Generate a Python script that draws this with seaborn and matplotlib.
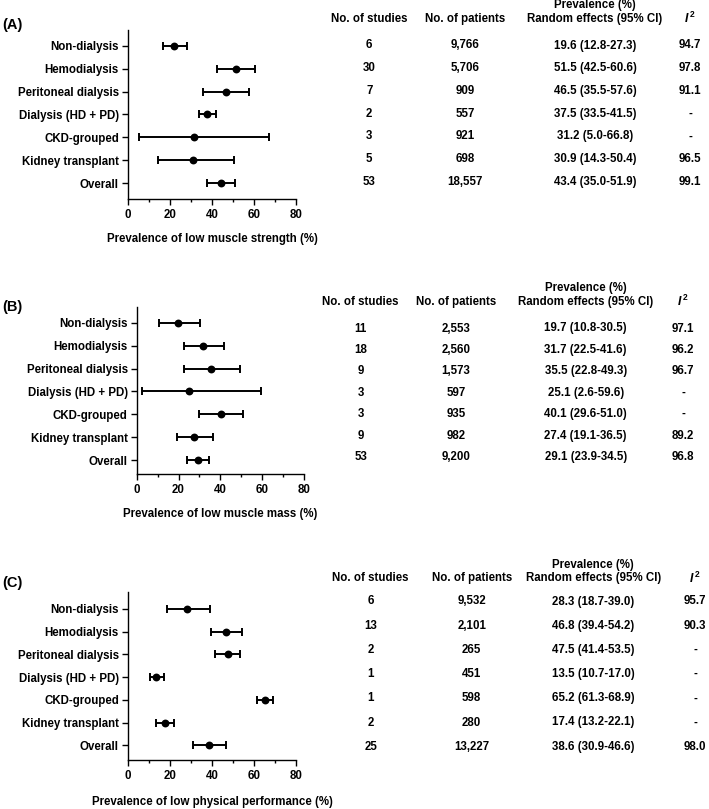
import numpy as np
import pandas as pd
import matplotlib
matplotlib.use('Agg')
import matplotlib.pyplot as plt
import seaborn as sns

groups = ['Non-dialysis', 'Hemodialysis', 'Peritoneal dialysis', 'Dialysis (HD + PD)',
          'CKD-grouped', 'Kidney transplant', 'Overall']

# (A) low muscle strength - marker positions as drawn
a_est = [21.9, 51.6, 46.5, 37.6, 31.3, 30.8, 44.1]
a_lo = [16.8, 42.5, 35.6, 33.7, 5.1, 14.4, 37.8]
a_hi = [27.9, 60.6, 57.8, 41.8, 67.0, 50.6, 50.9]
a_studies = ['6', '30', '7', '2', '3', '5', '53']
a_patients = ['9,766', '5,706', '909', '557', '921', '698', '18,557']
a_prev = ['19.6 (12.8-27.3)', '51.5 (42.5-60.6)', '46.5 (35.5-57.6)', '37.5 (33.5-41.5)',
          '31.2 (5.0-66.8)', '30.9 (14.3-50.4)', '43.4 (35.0-51.9)']
a_i2 = ['94.7', '97.8', '91.1', '-', '-', '96.5', '99.1']

# (B) low muscle mass
b_est = [19.7, 31.7, 35.5, 25.1, 40.1, 27.4, 29.1]
b_lo = [10.8, 22.5, 22.8, 2.6, 29.6, 19.1, 23.9]
b_hi = [30.5, 41.6, 49.3, 59.6, 51.0, 36.5, 34.5]
b_studies = ['11', '18', '9', '3', '3', '9', '53']
b_patients = ['2,553', '2,560', '1,573', '597', '935', '982', '9,200']
b_prev = ['19.7 (10.8-30.5)', '31.7 (22.5-41.6)', '35.5 (22.8-49.3)', '25.1 (2.6-59.6)',
          '40.1 (29.6-51.0)', '27.4 (19.1-36.5)', '29.1 (23.9-34.5)']
b_i2 = ['97.1', '96.2', '96.7', '-', '-', '89.2', '96.8']

# (C) low physical performance
c_est = [28.3, 46.8, 47.5, 13.5, 65.2, 17.4, 38.6]
c_lo = [18.7, 39.4, 41.4, 10.7, 61.3, 13.2, 30.9]
c_hi = [39.0, 54.2, 53.5, 17.0, 68.9, 22.1, 46.6]
c_studies = ['6', '13', '2', '1', '1', '2', '25']
c_patients = ['9,532', '2,101', '265', '451', '598', '280', '13,227']
c_prev = ['28.3 (18.7-39.0)', '46.8 (39.4-54.2)', '47.5 (41.4-53.5)', '13.5 (10.7-17.0)',
          '65.2 (61.3-68.9)', '17.4 (13.2-22.1)', '38.6 (30.9-46.6)']
c_i2 = ['95.7', '90.3', '-', '-', '-', '-', '98.0']

xlabels = ['Prevalence of low muscle strength (%)',
           'Prevalence of low muscle mass (%)',
           'Prevalence of low physical performance (%)']

sns.set_style('ticks')
plt.rcParams['font.family'] = ['Liberation Sans', 'DejaVu Sans']
plt.rcParams['font.weight'] = 'bold'
plt.rcParams['text.color'] = 'black'
plt.rcParams['axes.labelcolor'] = 'black'
plt.rcParams['mathtext.fontset'] = 'custom'
plt.rcParams['mathtext.it'] = 'Liberation Sans:italic'
plt.rcParams['mathtext.rm'] = 'Liberation Sans:bold'

W, H = 709, 809
FS = 8.3
fig = plt.figure(figsize=(W / 100, H / 100), dpi=100)


def fx(x):
    return x / W


def fy(y):
    return 1 - y / H


# axes boxes in pixels: left, right, top, bottom, ylim
boxes = [(128, 296, 30, 199, (6.7, -0.7)),
         (136.7, 304, 306.7, 474, (6.6, -0.7)),
         (128, 296, 591.7, 760, (6.65, -0.76))]

# table layout: column centres, header y, first row y, row step
tables = [([369.3, 465, 595, 690], 18.7, 45.5, 22.7),
          ([360.7, 456, 585.7, 683.3], 301.7, 328.5, 21.4),
          ([370.7, 471.7, 593.3, 695], 578.3, 601.5, 24.2)]

panels = [(a_est, a_lo, a_hi, a_studies, a_patients, a_prev, a_i2),
          (b_est, b_lo, b_hi, b_studies, b_patients, b_prev, b_i2),
          (c_est, c_lo, c_hi, c_studies, c_patients, c_prev, c_i2)]

letters = ['(A)', '(B)', '(C)']
letter_y = [25, 307, 583]
xlabel_pad = [8, 8.5, 9.5]

for i, (est, lo, hi, st, pat, prev, i2) in enumerate(panels):
    l, r, t, b, ylim = boxes[i]
    ax = fig.add_axes([fx(l), fy(b), (r - l) / W, (b - t) / H])
    df = pd.DataFrame({'group': groups, 'est': est, 'lo': lo, 'hi': hi})
    df['y'] = np.arange(len(df))

    ax.errorbar(df['est'], df['y'], xerr=[df['est'] - df['lo'], df['hi'] - df['est']],
                fmt='none', ecolor='black', elinewidth=1.4, capsize=2.6, capthick=1.4, zorder=2)
    sns.scatterplot(data=df, x='est', y='y', ax=ax, color='black', s=32,
                    edgecolor='black', linewidth=0, zorder=3, legend=False)

    ax.set_xlim(0, 80)
    ax.set_ylim(*ylim)
    ax.set_yticks(df['y'])
    ax.set_yticklabels(groups)
    ax.set_xticks([0, 20, 40, 60, 80])
    ax.set_xticks([10, 30, 50, 70], minor=True)
    ax.tick_params(axis='both', which='major', labelsize=FS, length=4, width=1, color='black',
                   labelcolor='black', pad=2.5)
    ax.tick_params(axis='x', which='minor', length=2.5, width=1, color='black')
    ax.tick_params(axis='x', pad=3.5)
    for lab in ax.get_xticklabels() + ax.get_yticklabels():
        lab.set_fontweight('bold')
    sns.despine(ax=ax)
    for sp in ['left', 'bottom']:
        ax.spines[sp].set_linewidth(1)
        ax.spines[sp].set_color('black')
    ax.set_xlabel(xlabels[i], fontsize=FS, fontweight='bold', labelpad=xlabel_pad[i])
    ax.set_ylabel('')

    fig.text(fx(2), fy(letter_y[i]), letters[i], fontsize=10.5, fontweight='bold',
             ha='left', va='center')

    cols, hy, ry, step = tables[i]
    fig.text(fx(cols[0]), fy(hy), 'No. of studies', fontsize=FS, fontweight='bold',
             ha='center', va='center')
    fig.text(fx(cols[1]), fy(hy), 'No. of patients', fontsize=FS, fontweight='bold',
             ha='center', va='center')
    fig.text(fx(cols[2]), fy(hy - 13.5), 'Prevalence (%)', fontsize=FS, fontweight='bold',
             ha='center', va='center')
    fig.text(fx(cols[2]), fy(hy), 'Random effects (95% CI)', fontsize=FS, fontweight='bold',
             ha='center', va='center')
    fig.text(fx(cols[3]), fy(hy), r'$\mathit{I}^{\,2}$', fontsize=FS + 0.5,
             ha='center', va='center')
    for k in range(len(groups)):
        yy = fy(ry + k * step)
        for c, val in zip(cols, [st[k], pat[k], prev[k], i2[k]]):
            fig.text(fx(c), yy, val, fontsize=FS, fontweight='bold', ha='center', va='center')

fig.savefig('out.png', dpi=100, facecolor='white')
